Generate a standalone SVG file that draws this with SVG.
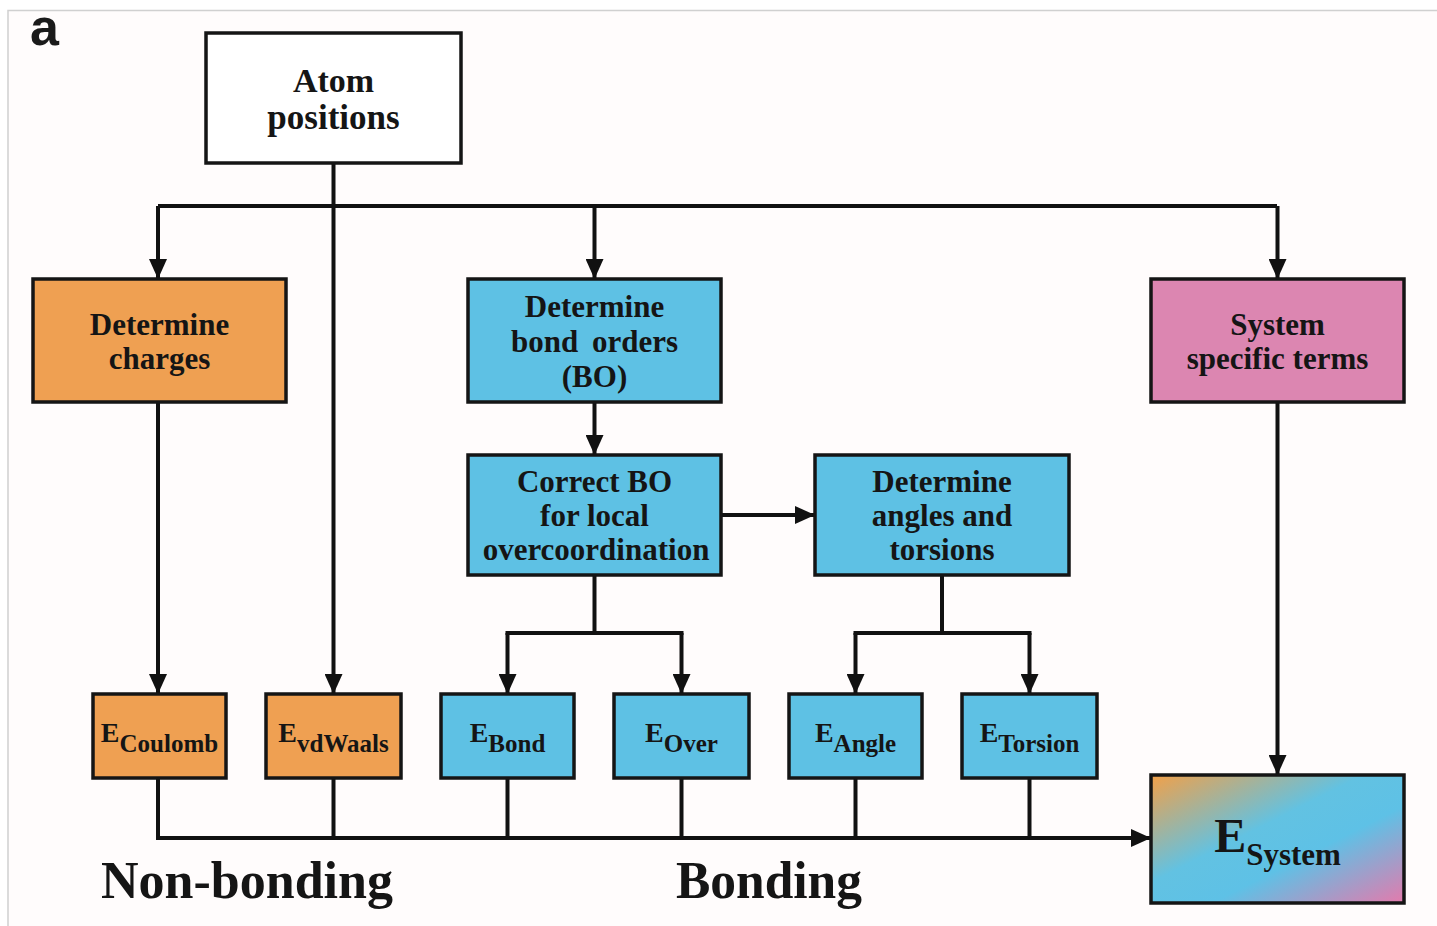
<svg xmlns="http://www.w3.org/2000/svg" width="1437" height="926" viewBox="0 0 1437 926">
  <defs>
    <style>
      .box { stroke: #151515; stroke-width: 3.5; }
      .white { fill: #ffffff; }
      .orange { fill: #EFA052; }
      .blue { fill: #5EC1E4; }
      .pink { fill: #DC86B1; }
      .t { font-family: "Liberation Serif", "Times New Roman", serif; font-weight: bold; fill: #151515; text-anchor: middle; }
      .lbl { font-size: 31px; }
      .wire { fill: none; stroke: #111111; stroke-width: 4; }
      .arr { fill: none; stroke: #111111; stroke-width: 4; marker-end: url(#ah); }
    </style>
    <marker id="ah" markerUnits="userSpaceOnUse" markerWidth="22" markerHeight="18" refX="20" refY="9" orient="auto">
      <path d="M0,0 L20,9 L0,18 z" fill="#111111"/>
    </marker>
    <linearGradient id="sysgrad" x1="0" y1="0" x2="1" y2="1">
      <stop offset="0" stop-color="#F2A048"/>
      <stop offset="0.42" stop-color="#62C2E2"/>
      <stop offset="0.62" stop-color="#5EC1E6"/>
      <stop offset="1" stop-color="#E47AAC"/>
    </linearGradient>
  </defs>

  <rect x="0" y="0" width="1437" height="926" fill="#ffffff"/>
  <rect x="9" y="11" width="1428" height="915" fill="#fffcfc"/>
  <path d="M8,926 L8,10.5 L1437,10.5" fill="none" stroke="#d0d0d0" stroke-width="1.5"/>

  <text x="30" y="45" font-family="Liberation Sans, Arial, sans-serif" font-weight="bold" font-size="52" fill="#1a1a1a">a</text>

  <g id="connectors">
    <path class="wire" d="M158,206 L1277,206"/>
    <path class="arr" d="M158,206 L158,279"/>
    <path class="arr" d="M594.5,206 L594.5,279"/>
    <path class="arr" d="M1277.5,206 L1277.5,279"/>
    <path class="arr" d="M333.5,163 L333.5,694"/>
    <path class="arr" d="M158,402 L158,694"/>
    <path class="arr" d="M594.5,402 L594.5,455"/>
    <path class="arr" d="M721,515 L815,515"/>
    <path class="wire" d="M594.5,575 L594.5,633"/>
    <path class="arr" d="M507.5,633 L507.5,694"/>
    <path class="arr" d="M681.5,633 L681.5,694"/>
    <path class="wire" d="M505.5,633 L683.5,633"/>
    <path class="wire" d="M942,575 L942,633"/>
    <path class="wire" d="M853.5,633 L1031.5,633"/>
    <path class="arr" d="M855.5,633 L855.5,694"/>
    <path class="arr" d="M1029.5,633 L1029.5,694"/>
    <path class="arr" d="M1277.5,402 L1277.5,775"/>
    <path class="wire" d="M158,778 L158,838"/>
    <path class="wire" d="M333.5,778 L333.5,838"/>
    <path class="wire" d="M507.5,778 L507.5,838"/>
    <path class="wire" d="M681.5,778 L681.5,838"/>
    <path class="wire" d="M855.5,778 L855.5,838"/>
    <path class="wire" d="M1029.5,778 L1029.5,838"/>
    <path class="arr" d="M156,838 L1151,838"/>
  </g>

  <g id="atom-positions">
    <rect class="box white" x="206" y="33" width="255" height="130"/>
    <text class="t" font-size="34" x="333.5" y="92">Atom</text>
    <text class="t" font-size="35" x="333.5" y="129">positions</text>
  </g>

  <g id="determine-charges">
    <rect class="box orange" x="33" y="279" width="253" height="123"/>
    <text class="t lbl" x="159.5" y="335">Determine</text>
    <text class="t lbl" x="159.5" y="369">charges</text>
  </g>

  <g id="determine-bond-orders">
    <rect class="box blue" x="468" y="279" width="253" height="123"/>
    <text class="t lbl" x="594.5" y="317">Determine</text>
    <text class="t lbl" x="594.5" y="352" word-spacing="6">bond orders</text>
    <text class="t lbl" x="594.5" y="387">(BO)</text>
  </g>

  <g id="system-specific-terms">
    <rect class="box pink" x="1151" y="279" width="253" height="123"/>
    <text class="t lbl" x="1277.5" y="335">System</text>
    <text class="t lbl" x="1277.5" y="369">specific terms</text>
  </g>

  <g id="correct-bo">
    <rect class="box blue" x="468" y="455" width="253" height="120"/>
    <text class="t lbl" x="594.5" y="492">Correct BO</text>
    <text class="t lbl" x="594.5" y="526">for local</text>
    <text class="t lbl" x="596" y="560">overcoordination</text>
  </g>

  <g id="determine-angles">
    <rect class="box blue" x="815" y="455" width="254" height="120"/>
    <text class="t lbl" x="942" y="492">Determine</text>
    <text class="t lbl" x="942" y="526">angles and</text>
    <text class="t lbl" x="942" y="560">torsions</text>
  </g>

  <g id="e-coulomb">
    <rect class="box orange" x="93" y="694" width="133" height="84"/>
    <text class="t" x="159.5" y="742"><tspan font-size="28">E</tspan><tspan font-size="25" dy="10">Coulomb</tspan></text>
  </g>
  <g id="e-vdwaals">
    <rect class="box orange" x="266" y="694" width="135" height="84"/>
    <text class="t" x="333.5" y="742"><tspan font-size="28">E</tspan><tspan font-size="25" dy="10">vdWaals</tspan></text>
  </g>
  <g id="e-bond">
    <rect class="box blue" x="441" y="694" width="133" height="84"/>
    <text class="t" x="507.5" y="742"><tspan font-size="28">E</tspan><tspan font-size="25" dy="10">Bond</tspan></text>
  </g>
  <g id="e-over">
    <rect class="box blue" x="614" y="694" width="135" height="84"/>
    <text class="t" x="681.5" y="742"><tspan font-size="28">E</tspan><tspan font-size="25" dy="10">Over</tspan></text>
  </g>
  <g id="e-angle">
    <rect class="box blue" x="789" y="694" width="133" height="84"/>
    <text class="t" x="855.5" y="742"><tspan font-size="28">E</tspan><tspan font-size="25" dy="10">Angle</tspan></text>
  </g>
  <g id="e-torsion">
    <rect class="box blue" x="962" y="694" width="135" height="84"/>
    <text class="t" x="1029.5" y="742"><tspan font-size="28">E</tspan><tspan font-size="25" dy="10">Torsion</tspan></text>
  </g>

  <g id="e-system">
    <rect class="box" fill="url(#sysgrad)" x="1151" y="775" width="253" height="128"/>
    <text class="t" x="1277.5" y="852"><tspan font-size="48">E</tspan><tspan font-size="31" dy="13">System</tspan></text>
  </g>

  <g id="labels">
    <text class="t" font-size="53" x="247" y="898" textLength="292" lengthAdjust="spacingAndGlyphs">Non-bonding</text>
    <text class="t" font-size="53" x="769" y="898" textLength="186" lengthAdjust="spacingAndGlyphs">Bonding</text>
  </g>
</svg>
